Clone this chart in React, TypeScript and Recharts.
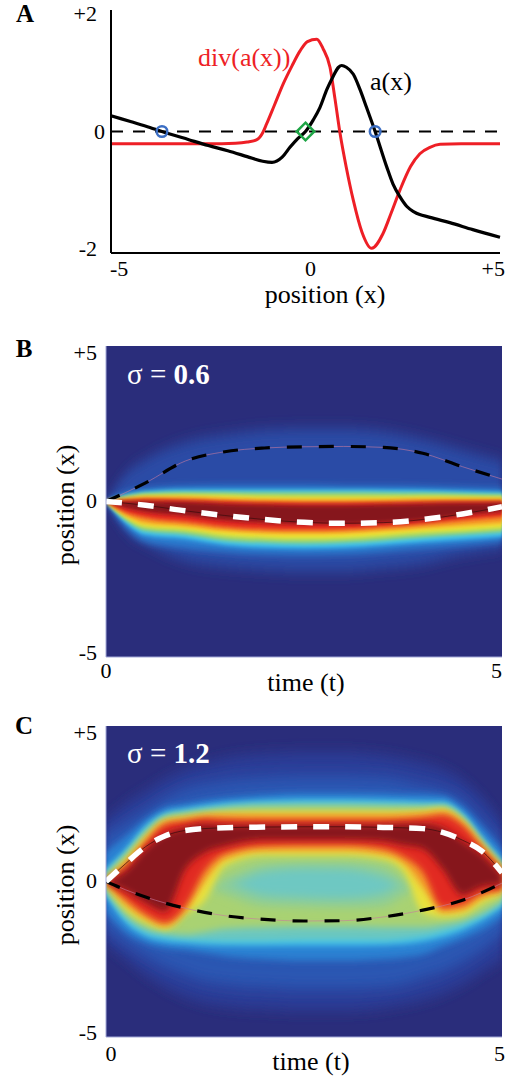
import React from 'react';
import { ComposedChart, Line, Area, Scatter, XAxis, YAxis, ReferenceLine, CartesianGrid } from 'recharts';

const FONT = '"Liberation Serif", Tinos, "Times New Roman", "Noto Serif", "DejaVu Serif", FreeSerif, serif';

// ---------- panel A: drift a(x) and its divergence ----------
const A_X_TICKS = [-5, 0, 5];
const A_Y_TICKS = [-2, 0, 2];

const DRIFT_X = [-5, -4.5, -4, -3.69, -3, -2.5, -2, -1.5, -1.1, -0.86, -0.6, -0.4, -0.2, 0, 0.2, 0.37, 0.55, 0.7, 0.85, 0.93, 1.05, 1.23, 1.4, 1.57, 1.79, 2.09, 2.25, 2.43, 2.6, 2.8, 3.2, 3.71, 4.3, 5];
const DRIFT_Y = [0.27, 0.17, 0.07, 0, -0.14, -0.24, -0.33, -0.43, -0.51, -0.53, -0.44, -0.27, -0.12, 0, 0.2, 0.41, 0.72, 0.93, 1.1, 1.13, 1.1, 0.98, 0.72, 0.41, 0, -0.61, -0.9, -1.12, -1.28, -1.38, -1.47, -1.56, -1.68, -1.81];

const DIV_X = [-5, -2.5, -1.8, -1.5, -1.25, -1.1, -1.0, -0.8, -0.57, -0.35, -0.14, 0.05, 0.29, 0.45, 0.63, 0.76, 0.89, 1.05, 1.23, 1.45, 1.7, 1.99, 2.2, 2.43, 2.7, 2.94, 3.2, 3.46, 4, 5];
const DIV_Y = [-0.21, -0.21, -0.2, -0.18, -0.14, -0.02, 0.13, 0.45, 0.82, 1.12, 1.38, 1.54, 1.58, 1.42, 1.1, 0.55, -0.04, -0.62, -1.18, -1.72, -2.0, -1.75, -1.4, -1.0, -0.6, -0.38, -0.27, -0.22, -0.21, -0.21];

const STABLE_X = [-3.69, 1.79];
const UNSTABLE_X = [0];

// ---------- panel B: sigma = 0.6 ----------
const B_T = [0, 0.25, 0.5, 1, 1.5, 2, 2.5, 3, 3.5, 4, 4.5, 5];
const B_HALO = { hi: [0, 0.9, 1.35, 1.9, 2.15, 2.3, 2.35, 2.35, 2.25, 2.0, 1.65, 1.3], lo: [0, -0.95, -1.35, -1.9, -2.1, -2.2, -2.25, -2.25, -2.15, -2.0, -1.7, -1.5] };
const B_LIGHT = { hi: [0, 0.3, 0.42, 0.5, 0.52, 0.52, 0.52, 0.5, 0.5, 0.48, 0.45, 0.42], lo: [0, -0.85, -1.3, -1.5, -1.62, -1.7, -1.72, -1.7, -1.62, -1.52, -1.42, -1.3] };
const B_CYAN = { hi: [0, 0.22, 0.32, 0.38, 0.38, 0.38, 0.38, 0.38, 0.37, 0.36, 0.33, 0.3], lo: [0, -0.7, -1.08, -1.2, -1.4, -1.48, -1.5, -1.48, -1.4, -1.3, -1.22, -1.13] };
const B_GREEN = { hi: [0, 0.16, 0.26, 0.3, 0.3, 0.29, 0.29, 0.29, 0.28, 0.27, 0.25, 0.22], lo: [0, -0.6, -0.94, -1.05, -1.25, -1.32, -1.35, -1.32, -1.25, -1.15, -1.06, -0.98] };
const B_YELLOW = { hi: [0, 0.12, 0.2, 0.22, 0.2, 0.17, 0.16, 0.16, 0.16, 0.17, 0.16, 0.15], lo: [0, -0.53, -0.82, -0.92, -1.1, -1.17, -1.2, -1.18, -1.1, -1.0, -0.93, -0.85] };
const B_ORANGE = { hi: [0, 0.08, 0.14, 0.14, 0.1, 0.07, 0.06, 0.06, 0.06, 0.08, 0.08, 0.07], lo: [0, -0.45, -0.7, -0.8, -0.95, -1.02, -1.04, -1.02, -0.95, -0.86, -0.78, -0.7] };
const B_RED = { hi: [0, 0.04, 0.08, 0.06, 0.02, -0.02, -0.03, -0.03, -0.02, 0, 0.01, 0.01], lo: [0, -0.35, -0.52, -0.66, -0.82, -0.9, -0.92, -0.9, -0.82, -0.72, -0.6, -0.5] };
const B_DARK = { hi: [0, 0, 0, -0.02, -0.07, -0.1, -0.12, -0.12, -0.1, -0.07, -0.05, -0.04], lo: [0, -0.2, -0.33, -0.45, -0.6, -0.68, -0.72, -0.72, -0.68, -0.6, -0.45, -0.33] };

const B_MEAN_T = [0, 0.5, 1, 1.5, 2, 2.5, 3, 3.5, 4, 4.5, 5];
const B_MEAN_V = [0, -0.12, -0.3, -0.45, -0.58, -0.67, -0.7, -0.68, -0.58, -0.4, -0.17];
const B_DET_T = [0, 0.5, 1, 1.5, 2, 2.5, 3, 3.5, 4, 4.5, 5];
const B_DET_V = [0, 0.6, 1.3, 1.6, 1.72, 1.76, 1.77, 1.74, 1.55, 1.12, 0.72];

// ---------- panel C: sigma = 1.2 ----------
const C_T = [0, 0.25, 0.5, 0.75, 1, 1.25, 1.5, 2, 2.5, 3, 3.5, 3.75, 4, 4.25, 4.5, 4.75, 5];
const C_HALO_OUT = { hi: [2.0, 2.5, 2.9, 3.3, 3.6, 3.8, 3.95, 4.1, 4.15, 4.15, 4.05, 3.95, 3.8, 3.6, 3.25, 2.7, 1.9], lo: [-2.0, -2.5, -3.0, -3.4, -3.7, -3.9, -4.0, -4.1, -4.15, -4.15, -4.05, -3.95, -3.8, -3.6, -3.3, -2.9, -2.5] };
const C_HALO_IN = { hi: [1.5, 1.9, 2.3, 2.7, 3.0, 3.15, 3.25, 3.35, 3.4, 3.4, 3.35, 3.25, 3.1, 2.95, 2.65, 2.0, 1.3], lo: [-1.5, -2.0, -2.4, -2.75, -3.0, -3.2, -3.3, -3.4, -3.45, -3.45, -3.4, -3.3, -3.1, -2.9, -2.6, -2.2, -1.7] };
const C_LIGHT = { hi: [0.95, 1.46, 2.0, 2.37, 2.48, 2.6, 2.68, 2.78, 2.84, 2.84, 2.82, 2.8, 2.8, 2.75, 2.4, 1.75, 1.0], lo: [-1.0, -1.65, -1.97, -2.13, -2.2, -2.3, -2.4, -2.5, -2.55, -2.55, -2.5, -2.45, -2.35, -2.1, -1.85, -1.56, -1.14] };
const C_CYAN = { hi: [0.4, 1.04, 1.78, 2.2, 2.32, 2.43, 2.5, 2.58, 2.62, 2.62, 2.6, 2.58, 2.56, 2.56, 2.2, 1.43, 0.69], lo: [-0.45, -1.32, -1.75, -1.91, -1.97, -2.02, -2.04, -2.05, -2.05, -2.05, -2.03, -2.0, -1.92, -1.78, -1.56, -1.24, -0.82] };
const C_TEAL = { hi: [0.3, 0.95, 1.68, 2.12, 2.24, 2.34, 2.42, 2.5, 2.52, 2.52, 2.5, 2.48, 2.47, 2.45, 2.1, 1.33, 0.6], lo: [-0.35, -1.2, -1.62, -1.78, -1.85, -1.9, -1.92, -1.92, -1.9, -1.9, -1.9, -1.86, -1.78, -1.62, -1.42, -1.12, -0.72] };
const C_LIME = { hi: [0.2, 0.85, 1.55, 2.05, 2.17, 2.26, 2.34, 2.41, 2.43, 2.43, 2.41, 2.4, 2.39, 2.38, 2.03, 1.26, 0.53], lo: [-0.25, -1.05, -1.48, -1.62, -1.7, -1.62, -1.52, -1.47, -1.45, -1.45, -1.47, -1.47, -1.47, -1.38, -1.25, -1.0, -0.62] };
const C_HOLE_GREEN = { hi: [-0.2, -0.2, -0.2, -0.2, -0.2, -0.2, 0.1, 0.55, 0.62, 0.62, 0.48, 0.05, -0.2, -0.2, -0.2, -0.2, -0.2], lo: [-0.2, -0.2, -0.2, -0.2, -0.2, -0.2, -0.4, -0.78, -0.82, -0.84, -0.8, -0.45, -0.2, -0.2, -0.2, -0.2, -0.2] };
const C_HOLE_TEAL = { hi: [-0.1, -0.1, -0.1, -0.1, -0.1, -0.1, -0.1, 0.32, 0.42, 0.4, 0.15, -0.1, -0.1, -0.1, -0.1, -0.1, -0.1], lo: [-0.1, -0.1, -0.1, -0.1, -0.1, -0.1, -0.1, -0.45, -0.52, -0.55, -0.4, -0.1, -0.1, -0.1, -0.1, -0.1, -0.1] };
const C_YELLOW = { hi: [0.08, 0.71, 1.46, 2.0, 2.1, 2.19, 2.22, 2.24, 2.24, 2.24, 2.24, 2.25, 2.28, 2.36, 1.98, 1.2, 0.47], lo: [-0.08, -0.9, -1.32, -1.54, -1.05, -0.6, 0.5, 0.85, 0.85, 0.85, 0.72, 0.35, -1.0, -1.15, -1.08, -0.7, -0.43] };
const C_ORANGE = { hi: [0.05, 0.6, 1.35, 1.92, 2.02, 2.12, 2.16, 2.16, 2.16, 2.16, 2.16, 2.17, 2.2, 2.26, 1.9, 1.14, 0.4], lo: [-0.05, -0.73, -1.18, -1.43, -0.95, 0.0, 0.72, 1.0, 1.0, 1.0, 0.88, 0.6, -0.2, -0.98, -0.92, -0.52, -0.33] };
const C_RED = { hi: [0.03, 0.5, 1.25, 1.84, 1.95, 2.03, 2.0, 1.98, 1.98, 1.98, 1.98, 2.0, 2.06, 2.14, 1.82, 1.08, 0.35], lo: [-0.03, -0.57, -1.05, -1.32, -0.8, 0.35, 0.9, 1.15, 1.18, 1.18, 1.05, 0.8, 0.3, -0.85, -0.75, -0.38, -0.27] };
const C_DARK = { hi: [0.0, 0.34, 1.04, 1.52, 1.73, 1.84, 1.8, 1.82, 1.82, 1.82, 1.82, 1.85, 1.85, 1.72, 1.3, 0.85, 0.2], lo: [0.0, -0.3, -0.68, -0.95, 0.39, 0.93, 1.14, 1.34, 1.34, 1.34, 1.3, 1.17, 1.05, 0.4, -0.43, -0.17, -0.1] };

const C_MEAN_T = [0, 0.25, 0.5, 0.75, 1, 1.5, 2, 2.5, 3, 3.5, 4, 4.25, 4.5, 4.75, 5];
const C_MEAN_V = [0, 0.58, 1.12, 1.47, 1.64, 1.73, 1.75, 1.76, 1.76, 1.74, 1.7, 1.58, 1.33, 0.97, 0.28];
const C_DET_T = [0, 0.25, 0.5, 1, 1.5, 2, 2.5, 3, 3.5, 4, 4.5, 4.75, 5];
const C_DET_V = [0, -0.27, -0.5, -0.86, -1.1, -1.22, -1.27, -1.26, -1.14, -0.92, -0.6, -0.35, -0.05];

const HEAT_T_TICKS = [0, 5];
const HEAT_X_TICKS = [-5, 0, 5];

// jet-like colour levels
const NAVY = '#2a2d7b';
const B_LAYERS = [
  { band: B_HALO, color: '#2b4ba6', blur: 'halo' },
  { band: B_LIGHT, color: '#2c7ccf', blur: 'mid' },
  { band: B_CYAN, color: '#3cc3ef', blur: 'hot' },
  { band: B_GREEN, color: '#9ad46e', blur: 'hot' },
  { band: B_YELLOW, color: '#f1e632', blur: 'hot' },
  { band: B_ORANGE, color: '#f69a25', blur: 'hot' },
  { band: B_RED, color: '#e52a20', blur: 'hot' },
  { band: B_DARK, color: '#86161a', blur: 'hot' },
];
const C_LAYERS = [
  { band: C_HALO_OUT, color: '#2b3e98', blur: 'halo' },
  { band: C_HALO_IN, color: '#2c56b2', blur: 'halo' },
  { band: C_LIGHT, color: '#2c80d2', blur: 'mid' },
  { band: C_CYAN, color: '#3cc3ef', blur: 'mid' },
  { band: C_TEAL, color: '#6cc7bf', blur: 'mid' },
  { band: C_LIME, color: '#a9d272', blur: 'mid' },
  { band: C_HOLE_GREEN, color: '#8ecd96', blur: 'soft' },
  { band: C_HOLE_TEAL, color: '#6ec8c2', blur: 'soft' },
  { band: C_YELLOW, color: '#e9e13e', blur: 'hot' },
  { band: C_ORANGE, color: '#f39a2a', blur: 'hot' },
  { band: C_RED, color: '#e22a20', blur: 'hot' },
  { band: C_DARK, color: '#86161a', blur: 'hot' },
];

const signed = (v: number) => (v > 0 ? `+${v}` : `${v}`);

function Txt({ x, y, size, children, anchor = 'start', color = '#000', bold = false, rotate = false }: any) {
  const tx = anchor === 'start' ? '0' : anchor === 'middle' ? '-50%' : '-100%';
  return (
    <div
      style={{
        position: 'absolute',
        left: x,
        top: y,
        transform: rotate ? 'translate(-50%,-50%) rotate(-90deg)' : `translate(${tx},-50%)`,
        fontFamily: FONT,
        fontSize: size,
        lineHeight: 1,
        whiteSpace: 'nowrap',
        color,
        fontWeight: bold ? 700 : 400,
      }}
    >
      {children}
    </div>
  );
}

const ringShape = (p: any) => <circle cx={p.cx} cy={p.cy} r={5.3} fill="none" stroke="#3b6ec4" strokeWidth={2.5} />;
const diamondShape = (p: any) => (
  <path
    d={`M${p.cx},${p.cy - 8.8}L${p.cx + 8.8},${p.cy}L${p.cx},${p.cy + 8.8}L${p.cx - 8.8},${p.cy}Z`}
    fill="none"
    stroke="#1ea546"
    strokeWidth={2.5}
  />
);

function PanelA() {
  const drift = DRIFT_X.map((x, i) => ({ x, y: DRIFT_Y[i] }));
  const div = DIV_X.map((x, i) => ({ x, y: DIV_Y[i] }));
  const stable = STABLE_X.map((x) => ({ x, y: 0 }));
  const unstable = UNSTABLE_X.map((x) => ({ x, y: 0 }));

  const xTick = (p: any) => {
    const v = p.payload.value;
    const anchor = v < 0 ? 'start' : v === 0 ? 'middle' : 'end';
    const dx = v < 0 ? -1 : 5;
    return (
      <text x={p.x + dx} y={p.y + 15} textAnchor={anchor} dominantBaseline="central" fontFamily={FONT} fontSize={22} fill="#000">
        {signed(v)}
      </text>
    );
  };
  const yTick = (p: any) => {
    const v = p.payload.value;
    return (
      <text x={p.x - (v === 0 ? 0 : 8)} y={p.y - (v > 0 ? 1 : 0)} textAnchor="end" dominantBaseline="central" fontFamily={FONT} fontSize={22} fill="#000">
        {signed(v)}
      </text>
    );
  };

  return (
    <div style={{ position: 'absolute', left: 0, top: 0, width: 521, height: 310 }}>
      <ComposedChart width={521} height={310} margin={{ top: 10, right: 21, bottom: 7, left: 61 }}>
        <XAxis dataKey="x" type="number" domain={[-5, 5]} ticks={A_X_TICKS} interval={0} height={50} tickSize={0} tickMargin={0} tickLine={false} axisLine={{ stroke: '#000', strokeWidth: 2 }} tick={xTick} />
        <YAxis dataKey="y" type="number" domain={[-2.08, 2.08]} ticks={A_Y_TICKS} interval={0} width={50} tickSize={0} tickMargin={6} tickLine={false} axisLine={{ stroke: '#000', strokeWidth: 2 }} tick={yTick} />
        <ReferenceLine y={0} stroke="#000" strokeWidth={2} strokeDasharray="12 10" />
        <Line data={div} dataKey="y" type="monotone" stroke="#ee1f26" strokeWidth={3} dot={false} activeDot={false} isAnimationActive={false} />
        <Line data={drift} dataKey="y" type="monotone" stroke="#000" strokeWidth={3.2} dot={false} activeDot={false} isAnimationActive={false} />
        <Scatter data={stable} shape={ringShape} isAnimationActive={false} />
        <Scatter data={unstable} shape={diamondShape} isAnimationActive={false} />
      </ComposedChart>
      <Txt x={25} y={13} size={25} bold anchor="middle">A</Txt>
      <Txt x={198} y={58} size={26} color="#ee1f26">div(a(x))</Txt>
      <Txt x={370} y={82} size={26}>a(x)</Txt>
      <Txt x={325} y={295} size={26} anchor="middle">position (x)</Txt>
    </div>
  );
}

function Heatmap({ top, times, layers, meanT, meanV, detT, detV, letter, sigma, zeroShift, endShift, tickDy, labelX, labelY, hotBlur, letterY, sigmaY }: any) {
  const rows = times.map((t: number, i: number) => {
    const r: any = { t };
    layers.forEach((L: any, j: number) => {
      r['k' + j] = [L.band.lo[i], L.band.hi[i]];
    });
    return r;
  });
  const mean = meanT.map((t: number, i: number) => ({ t, v: meanV[i] }));
  const det = detT.map((t: number, i: number) => ({ t, v: detV[i] }));
  const fid = 'f' + letter;

  const xTick = (p: any) => {
    const v = p.payload.value;
    return (
      <text x={p.x + (v === 0 ? zeroShift : endShift)} y={p.y + tickDy} textAnchor={v === 0 ? 'middle' : 'end'} dominantBaseline="central" fontFamily={FONT} fontSize={22} fill="#000">
        {v}
      </text>
    );
  };
  const yTick = (p: any) => {
    const v = p.payload.value;
    const nudge = v > 0 ? 6 : v < 0 ? -5 : -1;
    return (
      <text x={p.x} y={p.y + nudge} textAnchor="end" dominantBaseline="central" fontFamily={FONT} fontSize={22} fill="#000">
        {signed(v)}
      </text>
    );
  };
  const border = { stroke: '#a3a9d8', strokeWidth: 1 };

  return (
    <div style={{ position: 'absolute', left: 0, top, width: 521, height: 380 }}>
      <ComposedChart width={521} height={380} data={rows} margin={{ top: 30, right: 19, bottom: 9, left: 56 }}>
        <defs>
          <filter id={fid + 'halo'} filterUnits="userSpaceOnUse" x="0" y="0" width="521" height="380">
            <feGaussianBlur stdDeviation="3 7" />
          </filter>
          <filter id={fid + 'mid'} filterUnits="userSpaceOnUse" x="0" y="0" width="521" height="380">
            <feGaussianBlur stdDeviation="2 3.5" />
          </filter>
          <filter id={fid + 'soft'} filterUnits="userSpaceOnUse" x="0" y="0" width="521" height="380">
            <feGaussianBlur stdDeviation="6 5" />
          </filter>
          <filter id={fid + 'hot'} filterUnits="userSpaceOnUse" x="0" y="0" width="521" height="380">
            <feGaussianBlur stdDeviation={hotBlur} />
          </filter>
        </defs>
        <CartesianGrid fill={NAVY} fillOpacity={1} stroke="none" horizontal={false} vertical={false} />
        <XAxis dataKey="t" type="number" domain={[0, 5]} allowDataOverflow ticks={HEAT_T_TICKS} interval={0} height={30} tickSize={0} tickMargin={0} tickLine={false} axisLine={border} tick={xTick} />
        <XAxis xAxisId="top" orientation="top" type="number" domain={[0, 5]} height={0} tick={false} tickLine={false} axisLine={border} />
        <YAxis type="number" domain={[-5, 5]} allowDataOverflow ticks={HEAT_X_TICKS} interval={0} width={50} tickSize={0} tickMargin={9} tickLine={false} axisLine={border} tick={yTick} />
        <YAxis yAxisId="right" orientation="right" type="number" domain={[-5, 5]} width={0} tick={false} tickLine={false} axisLine={border} />
        {layers.map((L: any, j: number) => (
          <Area
            key={'k' + j}
            dataKey={'k' + j}
            type="monotone"
            fill={L.color}
            fillOpacity={1}
            stroke="none"
            dot={false}
            activeDot={false}
            isAnimationActive={false}
            style={{ filter: `url(#${fid}${L.blur})` }}
          />
        ))}
        <Line data={det} dataKey="v" type="monotone" stroke="#c77aa0" strokeWidth={0.6} dot={false} activeDot={false} isAnimationActive={false} />
        <Line data={det} dataKey="v" type="monotone" stroke="#000" strokeWidth={3.2} strokeDasharray="15 17" dot={false} activeDot={false} isAnimationActive={false} />
        <Line data={mean} dataKey="v" type="monotone" stroke="#3a0c0c" strokeWidth={0.7} dot={false} activeDot={false} isAnimationActive={false} />
        <Line data={mean} dataKey="v" type="monotone" stroke="#fff" strokeWidth={5.5} strokeDasharray="16 16" dot={false} activeDot={false} isAnimationActive={false} />
      </ComposedChart>
      <Txt x={24} y={letterY} size={25} bold anchor="middle">{letter}</Txt>
      <Txt x={127} y={sigmaY} size={29} color="#fff">
        σ = <b>{sigma}</b>
      </Txt>
      <Txt x={labelX} y={labelY} size={26} anchor="middle">time (t)</Txt>
      <Txt x={66} y={189} size={26} rotate>position (x)</Txt>
    </div>
  );
}

export default function App() {
  return (
    <div style={{ position: 'absolute', left: 0, top: 0, width: 521, height: 1079, background: '#fff', fontFamily: FONT }}>
      <PanelA />
      <Heatmap
        top={316}
        times={B_T}
        layers={B_LAYERS}
        meanT={B_MEAN_T}
        meanV={B_MEAN_V}
        detT={B_DET_T}
        detV={B_DET_V}
        letter="B"
        sigma="0.6"
        zeroShift={0}
        endShift={0}
        tickDy={13}
        labelX={306}
        labelY={367}
        hotBlur="1.2 2"
        letterY={32}
        sigmaY={58}
      />
      <Heatmap
        top={696}
        times={C_T}
        layers={C_LAYERS}
        meanT={C_MEAN_T}
        meanV={C_MEAN_V}
        detT={C_DET_T}
        detV={C_DET_V}
        letter="C"
        sigma="1.2"
        zeroShift={5}
        endShift={3}
        tickDy={16}
        labelX={311}
        labelY={366}
        hotBlur="3 3.5"
        letterY={29}
        sigmaY={57}
      />
    </div>
  );
}
